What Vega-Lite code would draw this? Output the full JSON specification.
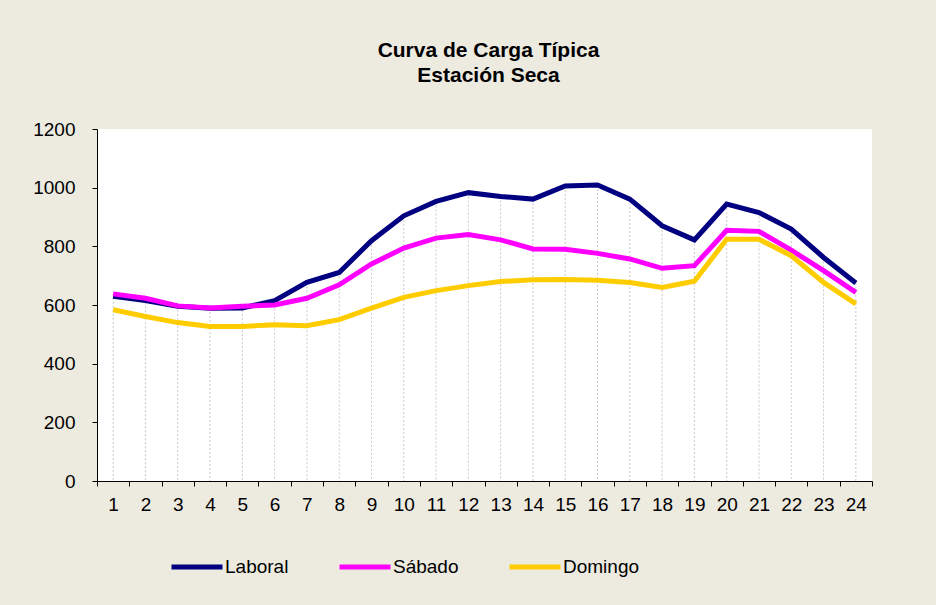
{
  "$schema": "https://vega.github.io/schema/vega-lite/v6.json",
  "autosize": {"type": "none"},
  "width": 775,
  "height": 352,
  "padding": {"left": 97, "top": 129, "right": 64, "bottom": 124},
  "background": "#EDEAE0",
  "config": {
    "view": {"fill": "white", "stroke": null},
    "font": "Liberation Sans"
  },
  "title": {
    "text": ["Curva de Carga Típica", "Estación Seca"],
    "fontSize": 21,
    "fontWeight": "bold",
    "font": "Liberation Sans",
    "color": "black",
    "lineHeight": 25,
    "anchor": "middle",
    "dx": 4,
    "offset": 34
  },
  "data": {
    "values": [
      {"hora": 1, "serie": "Laboral", "valor": 630},
      {"hora": 2, "serie": "Laboral", "valor": 615},
      {"hora": 3, "serie": "Laboral", "valor": 596},
      {"hora": 4, "serie": "Laboral", "valor": 589},
      {"hora": 5, "serie": "Laboral", "valor": 590},
      {"hora": 6, "serie": "Laboral", "valor": 615},
      {"hora": 7, "serie": "Laboral", "valor": 677},
      {"hora": 8, "serie": "Laboral", "valor": 711},
      {"hora": 9, "serie": "Laboral", "valor": 819},
      {"hora": 10, "serie": "Laboral", "valor": 904},
      {"hora": 11, "serie": "Laboral", "valor": 953},
      {"hora": 12, "serie": "Laboral", "valor": 983},
      {"hora": 13, "serie": "Laboral", "valor": 970},
      {"hora": 14, "serie": "Laboral", "valor": 961},
      {"hora": 15, "serie": "Laboral", "valor": 1006},
      {"hora": 16, "serie": "Laboral", "valor": 1009},
      {"hora": 17, "serie": "Laboral", "valor": 961},
      {"hora": 18, "serie": "Laboral", "valor": 870},
      {"hora": 19, "serie": "Laboral", "valor": 822},
      {"hora": 20, "serie": "Laboral", "valor": 944},
      {"hora": 21, "serie": "Laboral", "valor": 915},
      {"hora": 22, "serie": "Laboral", "valor": 859},
      {"hora": 23, "serie": "Laboral", "valor": 762},
      {"hora": 24, "serie": "Laboral", "valor": 675},
      {"hora": 1, "serie": "Sábado", "valor": 638},
      {"hora": 2, "serie": "Sábado", "valor": 623},
      {"hora": 3, "serie": "Sábado", "valor": 597},
      {"hora": 4, "serie": "Sábado", "valor": 590},
      {"hora": 5, "serie": "Sábado", "valor": 596},
      {"hora": 6, "serie": "Sábado", "valor": 600},
      {"hora": 7, "serie": "Sábado", "valor": 623},
      {"hora": 8, "serie": "Sábado", "valor": 669},
      {"hora": 9, "serie": "Sábado", "valor": 740},
      {"hora": 10, "serie": "Sábado", "valor": 794},
      {"hora": 11, "serie": "Sábado", "valor": 828},
      {"hora": 12, "serie": "Sábado", "valor": 840},
      {"hora": 13, "serie": "Sábado", "valor": 822},
      {"hora": 14, "serie": "Sábado", "valor": 791},
      {"hora": 15, "serie": "Sábado", "valor": 790},
      {"hora": 16, "serie": "Sábado", "valor": 776},
      {"hora": 17, "serie": "Sábado", "valor": 757},
      {"hora": 18, "serie": "Sábado", "valor": 725},
      {"hora": 19, "serie": "Sábado", "valor": 734},
      {"hora": 20, "serie": "Sábado", "valor": 855},
      {"hora": 21, "serie": "Sábado", "valor": 851},
      {"hora": 22, "serie": "Sábado", "valor": 787},
      {"hora": 23, "serie": "Sábado", "valor": 717},
      {"hora": 24, "serie": "Sábado", "valor": 643},
      {"hora": 1, "serie": "Domingo", "valor": 584},
      {"hora": 2, "serie": "Domingo", "valor": 561},
      {"hora": 3, "serie": "Domingo", "valor": 540},
      {"hora": 4, "serie": "Domingo", "valor": 527},
      {"hora": 5, "serie": "Domingo", "valor": 527},
      {"hora": 6, "serie": "Domingo", "valor": 533},
      {"hora": 7, "serie": "Domingo", "valor": 529},
      {"hora": 8, "serie": "Domingo", "valor": 550},
      {"hora": 9, "serie": "Domingo", "valor": 589},
      {"hora": 10, "serie": "Domingo", "valor": 626},
      {"hora": 11, "serie": "Domingo", "valor": 649},
      {"hora": 12, "serie": "Domingo", "valor": 666},
      {"hora": 13, "serie": "Domingo", "valor": 680},
      {"hora": 14, "serie": "Domingo", "valor": 686},
      {"hora": 15, "serie": "Domingo", "valor": 687},
      {"hora": 16, "serie": "Domingo", "valor": 684},
      {"hora": 17, "serie": "Domingo", "valor": 677},
      {"hora": 18, "serie": "Domingo", "valor": 660},
      {"hora": 19, "serie": "Domingo", "valor": 681},
      {"hora": 20, "serie": "Domingo", "valor": 824},
      {"hora": 21, "serie": "Domingo", "valor": 824},
      {"hora": 22, "serie": "Domingo", "valor": 768},
      {"hora": 23, "serie": "Domingo", "valor": 677},
      {"hora": 24, "serie": "Domingo", "valor": 604}
    ]
  },
  "encoding": {
    "x": {
      "field": "hora",
      "type": "ordinal",
      "scale": {"paddingInner": 0, "paddingOuter": 0},
      "axis": {
        "title": null,
        "labelAngle": 0,
        "labelFontSize": 19,
        "labelColor": "black",
        "labelFont": "Liberation Sans",
        "labelPadding": 9,
        "tickBand": "extent",
        "tickSize": 5,
        "tickColor": "black",
        "domainColor": "black",
        "grid": false
      }
    }
  },
  "layer": [
    {
      "transform": [
        {"aggregate": [{"op": "max", "field": "valor", "as": "maxv"}], "groupby": ["hora"]}
      ],
      "mark": {"type": "rule", "color": "#c8c8c8", "strokeWidth": 1, "strokeDash": [2, 2]},
      "encoding": {
        "y": {"field": "maxv", "type": "quantitative"},
        "y2": {"datum": 0}
      }
    },
    {
      "mark": {"type": "line", "strokeWidth": 5},
      "encoding": {
        "y": {
          "field": "valor",
          "type": "quantitative",
          "scale": {"domain": [0, 1200]},
          "axis": {
            "title": null,
            "values": [0, 200, 400, 600, 800, 1000, 1200],
            "format": "d",
            "labelFontSize": 19,
            "labelColor": "black",
            "labelFont": "Liberation Sans",
            "labelPadding": 17,
            "tickSize": 5,
            "tickColor": "black",
            "domainColor": "black",
            "grid": false
          }
        },
        "color": {
          "field": "serie",
          "type": "nominal",
          "scale": {
            "domain": ["Laboral", "Sábado", "Domingo"],
            "range": ["#000080", "#FF00FF", "#FFCC00"]
          },
          "legend": {
            "title": null,
            "orient": "none",
            "direction": "horizontal",
            "legendX": 72,
            "legendY": 410,
            "padding": 0,
            "symbolType": "stroke",
            "symbolSize": 2601,
            "symbolStrokeWidth": 5,
            "labelFontSize": 19,
            "labelFont": "Liberation Sans",
            "labelColor": "black",
            "labelOffset": 0,
            "columnPadding": 40
          }
        }
      }
    }
  ]
}
